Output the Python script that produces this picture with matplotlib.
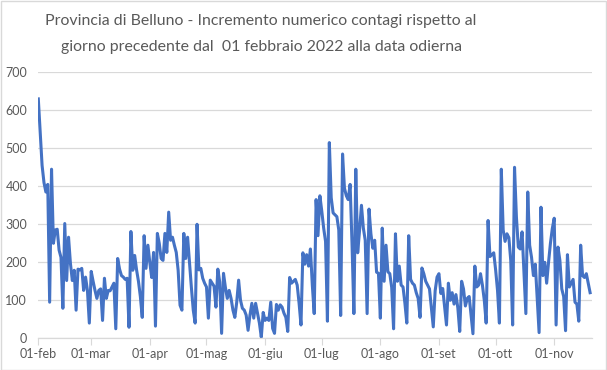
import numpy as np
import pandas as pd
import matplotlib
matplotlib.use("Agg")
import matplotlib.pyplot as plt
from matplotlib.patches import Rectangle

plt.rcParams['font.family'] = ['Lato', 'DejaVu Sans']

# daily increments, month by month
feb = [630, 540, 455, 410, 385, 405, 95, 445, 250, 285, 287, 232, 213, 79,
       302, 152, 266, 197, 152, 179, 74, 182, 180, 184, 126, 161, 126, 40]
mar = [176, 150, 126, 105, 126, 130, 47, 158, 105, 126, 125, 135, 145, 25,
       210, 182, 165, 161, 155, 158, 29, 281, 179, 218, 180, 150, 110, 55,
       270, 184, 245]
apr = [200, 160, 226, 32, 276, 250, 210, 205, 276, 226, 332, 258, 266, 245,
       226, 179, 87, 74, 276, 210, 266, 200, 134, 74, 40, 300, 180, 184, 158, 145]
mag = [135, 53, 153, 145, 137, 82, 182, 148, 13, 171, 134, 105, 126, 105,
       74, 55, 95, 153, 100, 79, 74, 61, 21, 61, 92, 53, 92, 66, 40, 3, 68]
giu = [47, 53, 47, 95, 26, 13, 89, 74, 88, 82, 66, 55, 18, 160, 145, 150,
       155, 140, 92, 35, 225, 195, 220, 190, 235, 140, 65, 365, 270, 375]
lug = [335, 290, 255, 45, 515, 370, 330, 325, 320, 285, 60, 485, 395, 375,
       365, 405, 250, 65, 445, 225, 284, 350, 290, 258, 65, 340, 275, 237,
       258, 174, 171]
ago = [53, 290, 150, 245, 175, 170, 134, 25, 275, 150, 190, 140, 135, 92,
       40, 270, 155, 145, 140, 120, 105, 55, 185, 170, 150, 140, 130, 80,
       30, 125, 161]
set_ = [170, 118, 131, 82, 35, 145, 100, 120, 90, 115, 80, 18, 150, 130,
        85, 105, 110, 60, 12, 190, 135, 140, 170, 140, 100, 40, 310, 215,
        220, 225]
ott = [180, 126, 40, 445, 285, 255, 275, 265, 205, 35, 450, 319, 240, 235,
       280, 171, 65, 385, 245, 213, 165, 195, 105, 15, 345, 165, 200, 145,
       200, 250, 289]
nov = [316, 35, 240, 205, 130, 110, 20, 220, 135, 145, 155, 95, 90, 45,
       245, 165, 160, 170, 145, 120]

tick_labels = ["01-feb", "01-mar", "01-apr", "01-mag", "01-giu", "01-lug",
               "01-ago", "01-set", "01-ott", "01-nov"]

values = feb + mar + apr + mag + giu + lug + ago + set_ + ott + nov
dates = pd.date_range("2022-02-01", periods=len(values), freq="D")
tick_dates = pd.date_range("2022-02-01", periods=len(tick_labels), freq="MS")

grey = "#595959"
grid = "#d9d9d9"

fig = plt.figure(figsize=(6.07, 3.70), dpi=100)
fig.patches.append(Rectangle((0.001, 0.001), 0.997, 0.996, transform=fig.transFigure,
                             fill=False, edgecolor=grid, lw=1))
ax = fig.add_axes([0.0631, 0.0857, 0.9122, 0.7189])

ax.plot(dates, values, color="#4472C4", lw=2.2, solid_joinstyle="round")

ax.set_ylim(0, 700)
ax.set_yticks(np.arange(0, 701, 100))
ax.set_xlim(dates[0], dates[0] + pd.Timedelta(days=len(values)))
ax.set_xticks(tick_dates)
ax.set_xticklabels(tick_labels)

ax.grid(axis="y", color=grid, lw=0.9)
ax.set_axisbelow(True)
for s in ["top", "right", "left"]:
    ax.spines[s].set_visible(False)
ax.spines["bottom"].set_color(grid)
ax.spines["bottom"].set_linewidth(0.9)
ax.tick_params(axis="y", length=0, labelsize=9, labelcolor=grey, pad=8)
ax.tick_params(axis="x", length=5, color=grid, labelsize=9, labelcolor=grey, pad=2)

fig.text(0.43, 0.943, "Provincia di Belluno - Incremento numerico contagi rispetto al",
         ha="center", va="center", fontsize=11.4, color=grey)
fig.text(0.43, 0.872, "giorno precedente dal  01 febbraio 2022 alla data odierna",
         ha="center", va="center", fontsize=11.4, color=grey)

fig.savefig("out.png", dpi=100)
